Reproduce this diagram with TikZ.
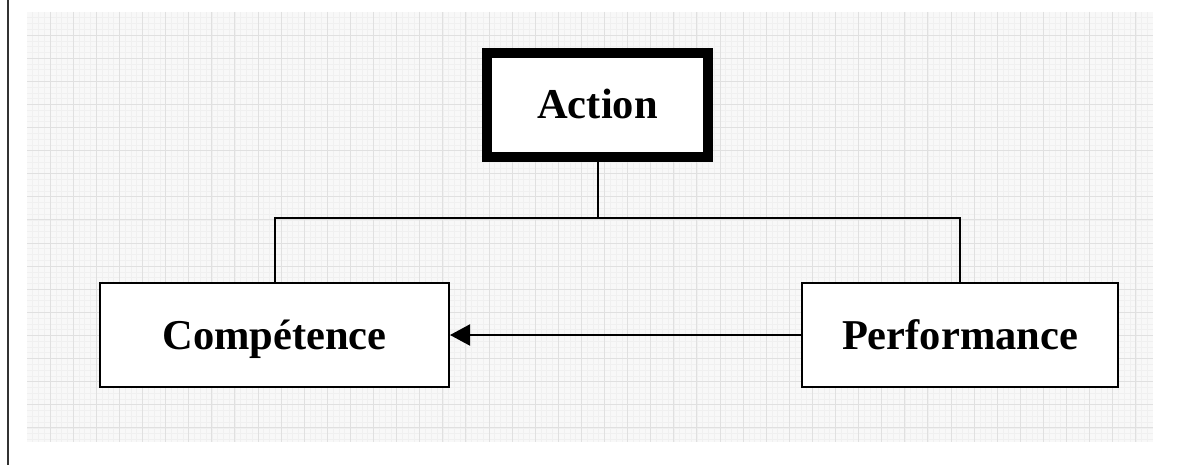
\documentclass[tikz,border=0pt]{standalone}
\usepackage{fontspec}
\setmainfont{Liberation Serif}
\usetikzlibrary{arrows.meta}
\definecolor{gridbg}{HTML}{F8F8F8}
\definecolor{gridminor}{HTML}{F0F0F0}
\definecolor{gridmajor}{HTML}{E0E0E0}
\definecolor{edgeline}{HTML}{333333}
\tikzset{
  box/.style={draw=black, fill=white, line width=2pt, minimum height=104pt,
    inner sep=0pt, text height=28pt, text depth=0pt,
    font=\fontsize{42.5}{50}\selectfont\bfseries},
  link/.style={draw=black, line width=2pt},
  minorline/.style={draw=gridminor, line width=0.6pt},
  majorline/.style={draw=gridmajor, line width=1pt}
}
\begin{document}
\begin{tikzpicture}[x=1pt,y=-1pt]
\useasboundingbox (0,0) rectangle (1177,465);
% grid background
\fill[gridbg] (27,12) rectangle (1153,442);
\foreach \i in {1,...,194} {
  \draw[minorline] ({27+\i*5.775},12) -- ({27+\i*5.775},442);
}
\foreach \i in {1,...,74} {
  \draw[minorline] (27,{12+\i*5.775}) -- (1153,{12+\i*5.775});
}
\foreach \i in {1,...,48} {
  \draw[majorline] ({27+\i*23.1},12) -- ({27+\i*23.1},442);
}
\foreach \i in {1,...,18} {
  \draw[majorline] (27,{12+\i*23.1}) -- (1153,{12+\i*23.1});
}
% left border line
\draw[edgeline, line width=2.5pt] (8,0) -- (8,465);
% nodes
\node[box, line width=10pt, minimum width=221pt] (act) at (597.5,105) {Action};
\node[box, minimum width=349pt] (comp) at (274.5,335) {Compétence};
\node[box, minimum width=316pt] (perf) at (960,335) {Performance};
\coordinate (j) at (597.5,218);
% connectors
\draw[link] (act.south) -- (j);
\draw[link] (j) -| (comp.north);
\draw[link] (j) -| (perf.north);
\draw[link, -{Triangle[length=20pt,width=21pt]}] (perf.west) -- (comp.east);
\end{tikzpicture}
\end{document}
